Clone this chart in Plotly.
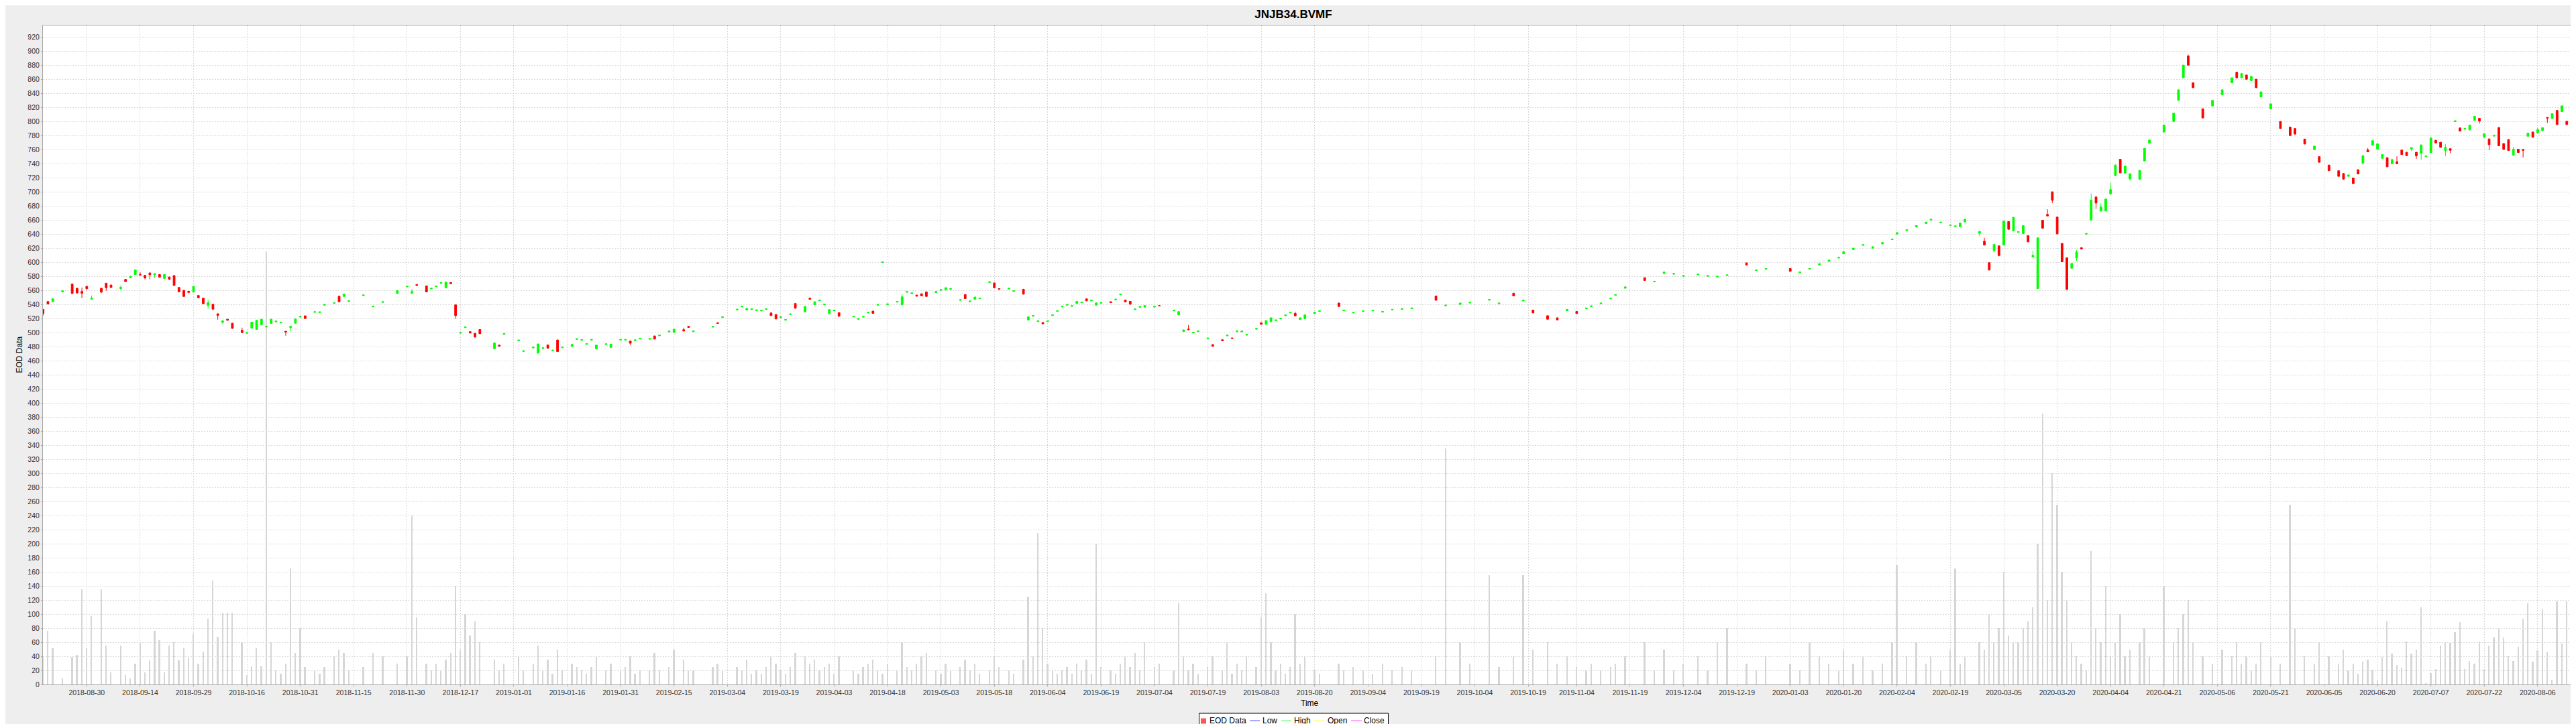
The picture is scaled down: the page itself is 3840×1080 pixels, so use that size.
import numpy as np
import plotly.graph_objects as go

START = "2018-08-17"          # session 0 (weekday count origin)
TITLE = "JNJB34.BVMF"

# trading session number (weekdays since START)
session = [
    0, 1, 2, 4, 6, 7, 8, 9, 10, 12,
    13, 14, 16, 17, 18, 19, 20, 21, 22, 23,
    24, 25, 26, 27, 28, 29, 30, 31, 32, 33,
    34, 35, 36, 37, 38, 39, 41, 42, 43, 44,
    45, 46, 47, 48, 49, 50, 51, 52, 53, 54,
    56, 57, 58, 60, 61, 62, 63, 66, 68, 70,
    73, 75, 76, 77, 79, 80, 81, 82, 83, 84,
    85, 86, 87, 88, 89, 90, 93, 94, 95, 98,
    99, 101, 102, 103, 104, 105, 106, 107, 109, 110,
    111, 112, 113, 114, 116, 117, 119, 120, 121, 122,
    123, 125, 126, 127, 129, 130, 132, 133, 134, 138,
    139, 140, 143, 144, 145, 146, 147, 148, 149, 150,
    151, 152, 153, 154, 155, 157, 158, 159, 160, 161,
    162, 163, 164, 167, 168, 169, 170, 171, 172, 173,
    174, 176, 177, 178, 179, 180, 181, 182, 184, 185,
    186, 187, 189, 190, 191, 192, 193, 195, 196, 197,
    199, 200, 202, 203, 204, 205, 206, 207, 208, 209,
    210, 211, 212, 213, 214, 215, 216, 217, 218, 220,
    221, 222, 223, 224, 225, 226, 227, 229, 230, 233,
    234, 235, 236, 237, 238, 240, 241, 243, 244, 245,
    246, 247, 248, 250, 251, 252, 253, 254, 255, 256,
    257, 258, 259, 260, 262, 263, 267, 268, 270, 272,
    274, 276, 278, 280, 282, 287, 289, 292, 294, 298,
    300, 303, 305, 307, 310, 312, 314, 316, 318, 319,
    321, 323, 324, 326, 330, 332, 334, 336, 338, 341,
    343, 345, 347, 351, 353, 355, 360, 362, 364, 366,
    368, 370, 371, 373, 375, 377, 379, 381, 382, 384,
    386, 388, 389, 391, 393, 394, 395, 396, 399, 400,
    401, 402, 403, 404, 405, 406, 407, 408, 409, 410,
    411, 412, 413, 414, 415, 416, 417, 418, 419, 420,
    421, 422, 423, 424, 425, 426, 427, 428, 429, 430,
    432, 433, 434, 437, 439, 440, 441, 442, 443, 445,
    447, 449, 451, 452, 453, 454, 455, 456, 457, 459,
    461, 463, 464, 466, 468, 469, 471, 473, 474, 475,
    476, 477, 478, 479, 480, 481, 482, 483, 484, 485,
    486, 487, 488, 489, 490, 491, 492, 493, 494, 495,
    496, 497, 498, 499, 500, 501, 502, 503, 504, 505,
    506, 507, 508, 509, 510, 511, 512, 513, 514, 515,
    516, 517, 518, 519, 520,
]

open_ = [
    533, 544.1, 544.1, 558, 568.9, 562.9, 558.4, 565.7, 547.3, 562.9,
    570.2, 567.6, 562.5, 575.6, 577.8, 582.5, 582.5, 581.3, 584.8, 582.2,
    582.5, 577.1, 579, 581, 564.1, 560, 558.7, 557.5, 552.7, 548.9,
    538.7, 540.3, 526.7, 514.6, 519, 513.3, 503.2, 499, 506.3, 504.4,
    511.1, 508, 513, 515.3, 513.8, 501.9, 507, 513.3, 522, 523.8,
    528.7, 528.4, 538.9, 541.4, 551.7, 551.4, 544.3, 552.5, 536.6, 543,
    555.6, 564.9, 555.9, 568.3, 566.3, 562, 565.2, 570, 563.8, 571.1,
    539.4, 499.2, 507.1, 501.3, 499, 504.4, 477.1, 482.2, 497.6, 488.4,
    473.2, 478.2, 470.8, 477.3, 482.5, 474.1, 489.5, 478.5, 480.3, 490.3,
    489, 483.3, 489.3, 476.8, 483, 479, 489.3, 489.3, 488, 488.7,
    490.9, 490.6, 495.2, 495.4, 501.1, 500.3, 504.1, 508.9, 501.4, 507.8,
    514, 521.4, 532.2, 536.6, 532.1, 532.8, 531.2, 530.9, 532.8, 527.9,
    525.7, 521.4, 517.6, 525.5, 541.3, 529.2, 548.9, 539.7, 545.2, 539.5,
    526.7, 530.9, 528.3, 522.4, 518.9, 522, 527.8, 530.5, 538.9, 599.5,
    539.8, 543.3, 539.4, 557.3, 555.4, 553.3, 555.2, 557.8, 556.8, 560.1,
    560.6, 561.4, 545.8, 554, 543.9, 547.3, 548.1, 571.2, 570.5, 562.5,
    562, 558.5, 561.6, 517.8, 523.3, 515.7, 514.3, 515.7, 524.3, 530,
    536.6, 538.9, 537.3, 541.3, 542.4, 547.9, 545.2, 539, 541.7, 543.8,
    546.5, 553.8, 546.3, 544.4, 532.5, 536, 536.2, 536.3, 538.4, 530.9,
    525.1, 501.6, 505.1, 499.5, 501.4, 491.2, 482.9, 489.8, 495.4, 492.4,
    501.4, 501.1, 496.3, 504.9, 514, 511.7, 515.6, 517, 519.5, 523.9,
    528.1, 527.3, 518.7, 519.7, 527, 530, 542, 531, 528, 530,
    531, 529, 532, 533, 534, 552, 538, 540, 542, 546,
    541, 556, 545, 532, 524, 521, 531, 530, 534, 537,
    541, 548, 553, 563, 578, 572, 584, 583, 580, 582,
    580, 579, 581, 599, 588, 590, 591, 585, 590, 596,
    601, 606, 612, 618, 624, 620, 626, 632, 640, 645,
    650, 655, 660, 656, 652, 650.6, 650.5, 657.5, 641, 629.8,
    599.4, 616.5, 623.2, 624.4, 657.8, 644.4, 642.4, 640.6, 637.8, 607.3,
    562.5, 659.7, 668, 700, 664.1, 626.7, 606.3, 591.4, 606, 620.6,
    639.8, 659.7, 692.7, 672.7, 672.7, 697.1, 722.9, 746.3, 726.7, 718.4,
    717.8, 743.8, 769.2, 785, 800, 830, 862, 893, 855, 818,
    822, 838, 855, 870, 862, 866, 858, 860, 835, 818,
    800, 792, 790, 775, 760, 750, 738, 730, 726, 722,
    719.7, 731.4, 740.6, 759.4, 766.3, 760.6, 747.6, 748.6, 740, 742.9,
    759.4, 756.2, 761, 756.2, 755, 750, 755.9, 773.3, 770.5, 758.7,
    761.3, 799.7, 790.8, 789, 787.9, 801.6, 804.4, 777.5, 775.2, 779.2,
    791.4, 768.6, 774.3, 752, 760.6, 760.3, 779, 785, 783.8, 787,
    805.7, 804.4, 815.6, 814, 800.3,
]

high = [
    533.5, 544.6, 548.5, 560, 569.4, 563.4, 564, 566.2, 552.7, 563.4,
    570.7, 568.1, 567, 576.1, 580.5, 589.4, 585.7, 581.8, 585.3, 584.3,
    583, 583, 579.5, 581.5, 564.6, 560.5, 559.2, 566.2, 553.2, 549.4,
    546.3, 540.8, 527.2, 517.3, 519.5, 513.8, 507, 500.5, 515.4, 518,
    519.5, 509.5, 519.5, 516.8, 515.3, 502.4, 509.4, 519.9, 523.5, 524.3,
    530.2, 529.9, 540.4, 542.9, 552.2, 555.1, 545.8, 554, 538.1, 544.5,
    560.2, 566.4, 562, 568.8, 566.8, 563.5, 566.7, 571.5, 572.2, 571.6,
    539.9, 500.7, 508.6, 501.8, 499.5, 504.9, 486.3, 482.7, 499.1, 489.9,
    474.7, 479.7, 484.3, 478.8, 483, 475.6, 490, 480, 483.7, 491.8,
    490.5, 484.8, 490.8, 482.7, 484.5, 484, 490.8, 490.8, 488.5, 490.2,
    492.4, 492.1, 495.7, 496.9, 502.6, 505.3, 507, 509.4, 502.9, 509.3,
    514.5, 522.9, 533.7, 538.1, 534.8, 534.3, 532.7, 532.4, 534.3, 528.4,
    526.2, 522.9, 519.1, 527, 541.8, 537.6, 549.4, 544.3, 546.7, 541,
    533.2, 532.4, 528.8, 523.9, 520.4, 523.5, 529.3, 531, 540.4, 601,
    541.3, 544.8, 554.6, 558.8, 556.9, 553.8, 555.7, 558.3, 558.9, 561.6,
    564.3, 562.9, 547.3, 554.5, 545.4, 551, 549.6, 572.7, 571, 563,
    563.5, 560, 562.1, 522.7, 524.8, 517.2, 514.8, 517.2, 525.8, 531.5,
    538.1, 540.4, 538.8, 544.9, 543.9, 548.4, 546.7, 542.7, 543.2, 544.3,
    548, 555.3, 546.8, 544.9, 534, 537.5, 538.9, 537.8, 538.9, 532.4,
    530.3, 504.3, 510.8, 501, 502.9, 492.7, 483.4, 490.3, 496.9, 492.9,
    502.9, 502.6, 497.8, 506.4, 514.5, 517.6, 521.5, 518.5, 521, 525.4,
    529.6, 529.5, 521.5, 525.6, 529.5, 531.5, 542.5, 532.5, 529.5, 531.5,
    532.5, 530.5, 533.5, 534.5, 535.5, 552.5, 539.5, 542.5, 543.5, 547.5,
    542.5, 556.5, 546.5, 532.5, 524.5, 521.5, 533.5, 530.5, 535.5, 538.5,
    542.5, 549.5, 554.5, 565.5, 578.5, 573.5, 586.5, 584.5, 581.5, 583.5,
    581.5, 580.5, 582.5, 599.5, 589.5, 591.5, 591.5, 586.5, 591.5, 598.5,
    603.5, 607.5, 615.5, 620.5, 625.5, 622.5, 628.5, 633.5, 642.5, 646.5,
    652.5, 657.5, 661.5, 657.5, 653.5, 652.1, 656.1, 661.5, 644.3, 634.6,
    599.9, 625.6, 623.7, 658.9, 658.3, 664.3, 643.9, 652.5, 638.3, 616.2,
    635.1, 660.2, 675.2, 700.5, 664.6, 627.2, 606.8, 598.6, 617.5, 621.1,
    641.3, 697.5, 693.2, 683.5, 690.3, 712.7, 738.6, 746.8, 737, 726.2,
    731, 762.1, 774.1, 795.5, 812.5, 845.5, 880.5, 895, 855.5, 818.5,
    830.5, 845.5, 862.5, 870.5, 868.5, 866.5, 864.5, 860.5, 842.5, 825.5,
    800.5, 792.5, 790.5, 775.5, 765.5, 750.5, 738.5, 730.5, 726.5, 724.5,
    720.2, 731.9, 751.9, 762.2, 773.2, 768.8, 753.5, 749.1, 746.5, 750.5,
    759.9, 756.7, 763.4, 756.7, 767.2, 751.5, 777, 773.8, 771, 767.6,
    761.8, 801.5, 791.3, 790.5, 795.4, 807.8, 804.9, 783, 775.7, 780.7,
    791.9, 769.1, 774.8, 764.1, 761.1, 760.8, 784, 785.5, 791, 791.6,
    806.2, 811.6, 816.1, 822.7, 800.8,
]

low = [
    524, 540.1, 543, 557.5, 555.1, 555.7, 549, 560, 546.8, 556,
    559.4, 563.6, 560, 571.9, 577.3, 582, 581.1, 575.6, 575.6, 578,
    578.2, 575.9, 574.6, 566.5, 557.3, 550.9, 556, 557, 549, 540.5,
    534, 532.8, 518.4, 512.4, 517, 505.5, 499.5, 498.5, 505.8, 503.9,
    510.6, 507.5, 512.5, 514.8, 513.3, 495.6, 502, 512.8, 521.5, 519.5,
    528.2, 527.9, 538.4, 540.9, 543.3, 550.9, 543.8, 552, 536.1, 542.5,
    555.1, 564.4, 555.4, 566.5, 557.3, 561.5, 564.7, 569.5, 563.3, 569,
    519.7, 498.7, 506.6, 498.9, 492.7, 497.9, 476.6, 480.1, 497.1, 487.9,
    472.7, 477.7, 470.3, 476.8, 477.3, 473.6, 472.5, 478, 479.8, 489.8,
    488.5, 482.8, 488.8, 476.3, 482.5, 478.5, 488.8, 488.8, 482.2, 488.2,
    490.4, 490.1, 490.3, 494.9, 500.6, 499.8, 501.7, 506.8, 500.9, 507.3,
    512.5, 520.9, 531.7, 536.1, 531.6, 532.3, 530.7, 530.4, 532.3, 523.6,
    518.9, 520.9, 517.1, 525, 534.1, 528.7, 546.8, 539.2, 544.7, 539,
    526.2, 530.4, 522, 521.9, 518.4, 521.5, 527.3, 526.8, 538.4, 599,
    539.3, 542.8, 538.9, 556.8, 554.9, 551.2, 551.6, 550.9, 556.3, 559.6,
    560.1, 560.9, 545.3, 547.8, 543.4, 546.8, 547.6, 570.7, 563.3, 561.1,
    561.5, 558, 554.1, 517.3, 522.8, 515.2, 511.9, 515.2, 523.8, 529.5,
    536.1, 538.4, 536.8, 540.8, 541.9, 544.6, 544.7, 538.5, 541.2, 542,
    546, 553.3, 543, 539.8, 532, 535.5, 535.7, 535.8, 537.3, 530.4,
    524.6, 501.1, 503.6, 499, 500.9, 490.7, 480.1, 487.8, 494.9, 491.2,
    500.9, 500.6, 495.8, 504.4, 511.2, 511.2, 515.1, 516.5, 519, 523.4,
    527.6, 523.3, 518.2, 519.2, 526.5, 529.5, 536.5, 530.5, 527.5, 529.5,
    530.5, 528.5, 531.5, 532.5, 533.5, 545.5, 537.5, 539.5, 541.5, 545.5,
    540.5, 551.5, 544.5, 527.5, 518.5, 517.5, 530.5, 526.5, 533.5, 536.5,
    540.5, 547.5, 552.5, 562.5, 573.5, 571.5, 583.5, 582.5, 579.5, 581.5,
    579.5, 578.5, 580.5, 595.5, 587.5, 589.5, 586.5, 584.5, 589.5, 595.5,
    600.5, 605.5, 611.5, 617.5, 623.5, 619.5, 625.5, 631.5, 639.5, 644.5,
    649.5, 654.5, 659.5, 655.5, 651.5, 650.1, 650, 656, 636.8, 623.9,
    588.4, 614, 608.3, 623.9, 646.2, 643.9, 641.9, 640.1, 628.4, 606.8,
    562, 647.8, 665.2, 684.1, 639.8, 600.1, 560.8, 590.9, 601.6, 618.2,
    639.3, 659.2, 675.6, 672.2, 672.2, 696.6, 722.4, 726.5, 726.2, 716,
    717.3, 743.3, 768.7, 784.5, 799.5, 829.5, 861.5, 879.5, 847.5, 804.5,
    821.5, 837.5, 854.5, 861.5, 861.5, 859.5, 857.5, 847.5, 834.5, 817.5,
    789.5, 779.5, 781.5, 767.5, 759.5, 741.5, 729.5, 721.5, 717.5, 721.5,
    711.2, 724.9, 740.1, 756.3, 765.8, 760.1, 747.1, 735.1, 739.5, 739.5,
    752.5, 750.9, 757.8, 746.7, 745.7, 749.5, 755.4, 769, 762.7, 750.8,
    754.9, 799.2, 785.8, 788.5, 787.4, 801.1, 797, 777, 759.4, 778.7,
    764.9, 759.8, 758.2, 751.5, 755.4, 748.9, 778.5, 777, 783.3, 786.5,
    798, 803.9, 795.1, 813.5, 795.1,
]

close = [
    527.3, 540.6, 548, 559.5, 555.6, 556.2, 555.9, 562.5, 548.9, 557.5,
    563.8, 564.1, 564.4, 572.4, 580, 588.9, 581.6, 577.5, 582.2, 583.8,
    578.7, 582.5, 575.9, 567, 557.8, 551.4, 557.1, 565.7, 549.5, 541,
    542.5, 533.3, 524.4, 516.8, 517.5, 506, 500, 500, 514.9, 517.5,
    519, 509, 519, 516.3, 514.8, 501, 508.9, 519.4, 523, 520,
    529.7, 529.4, 539.9, 542.4, 543.8, 554.6, 545.3, 553.5, 537.6, 544,
    559.7, 565.9, 558.4, 567, 557.8, 563, 566.2, 571, 571.7, 569.5,
    524.1, 500.2, 508.1, 499.4, 493.7, 498.4, 485.1, 480.6, 498.6, 489.4,
    474.2, 479.2, 483.8, 478.3, 477.8, 475.1, 473, 479.5, 483.2, 491.3,
    490, 484.3, 490.3, 482.2, 484, 483.5, 490.3, 490.3, 484.8, 489.7,
    491.9, 491.6, 490.8, 496.4, 502.1, 504.8, 502.2, 507.3, 502.4, 508.8,
    513, 522.4, 533.2, 537.6, 534.3, 533.8, 532.2, 531.9, 533.8, 524.1,
    519.4, 522.4, 518.6, 526.5, 534.6, 537.1, 547.3, 543.8, 546.2, 540.5,
    532.7, 531.9, 523.5, 523.4, 519.9, 523, 528.8, 527.3, 539.9, 600.5,
    540.8, 544.3, 550.8, 558.3, 556.4, 551.7, 552.1, 551.4, 558.4, 561.1,
    563.8, 562.4, 546.8, 548.3, 544.9, 550.5, 549.1, 572.2, 563.8, 561.6,
    563, 559.5, 554.6, 522.2, 524.3, 516.7, 512.4, 516.7, 525.3, 531,
    537.6, 539.9, 538.3, 544.4, 543.4, 545.1, 546.2, 542.2, 542.7, 542.5,
    547.5, 554.8, 543.5, 540.3, 533.5, 537, 538.4, 537.3, 537.8, 531.9,
    529.8, 503.8, 504.1, 500.5, 502.4, 492.2, 480.6, 488.3, 496.4, 491.7,
    502.4, 502.1, 497.3, 505.9, 511.7, 517.1, 521, 518, 520.5, 524.9,
    529.1, 523.8, 521, 525.1, 529, 531, 537, 532, 529, 531,
    532, 530, 533, 534, 535, 546, 539, 542, 543, 547,
    542, 552, 546, 528, 519, 518, 533, 527, 535, 538,
    542, 549, 554, 565, 574, 573, 586, 584, 581, 583,
    581, 580, 582, 596, 589, 591, 587, 586, 591, 598,
    603, 607, 615, 620, 625, 622, 628, 633, 642, 646,
    652, 657, 661, 657, 653, 651.6, 655.6, 661, 643.8, 624.4,
    588.9, 625.1, 609.5, 658.4, 646.7, 663.8, 643.4, 652, 628.9, 609.8,
    634.6, 648.3, 665.7, 688, 640.3, 600.6, 561.3, 598.1, 614.6, 618.7,
    640.8, 688.3, 684.1, 678.4, 689.8, 703.2, 738.1, 727, 736.5, 725.7,
    730.5, 761.6, 773.6, 795, 812, 845, 880, 880, 848, 805,
    830, 845, 862, 862, 868, 860, 864, 848, 842, 825,
    790, 780, 782, 768, 765, 742, 730, 722, 718, 724,
    711.7, 725.4, 751.4, 756.8, 772.7, 768.3, 753, 735.6, 746, 740,
    753, 751.4, 762.9, 751.1, 766.7, 751, 776.5, 769.5, 763.2, 763.2,
    759, 801, 786.3, 790, 794.9, 807.3, 800.6, 782.5, 767, 780.2,
    765.4, 760.3, 758.7, 760.6, 755.9, 759, 783.5, 777.5, 788.6, 791.1,
    804.8, 811.1, 795.6, 822.2, 795.6,
]

volume = [
    40, 76, 51, 9, 39, 42, 135, 51, 97, 135,
    55, 17, 55, 13, 9, 30, 60, 17, 34, 76,
    63, 17, 55, 60, 34, 51, 38, 72, 30, 47,
    93, 148, 68, 102, 102, 102, 60, 13, 26, 51,
    26, 615, 60, 20, 15, 30, 165, 45, 80, 25,
    20, 15, 25, 40, 50, 45, 20, 25, 45, 40,
    30, 40, 240, 95, 30, 20, 30, 20, 35, 45,
    140, 50, 100, 70, 90, 60, 35, 20, 30, 40,
    20, 30, 55, 20, 35, 15, 50, 20, 30, 25,
    20, 15, 25, 40, 20, 30, 20, 25, 40, 15,
    20, 20, 45, 20, 25, 50, 35, 20, 20, 25,
    30, 20, 25, 20, 35, 15, 20, 15, 25, 40,
    30, 20, 15, 25, 45, 40, 30, 35, 20, 25,
    30, 15, 40, 20, 15, 25, 30, 35, 20, 15,
    30, 20, 60, 25, 20, 30, 40, 45, 20, 15,
    30, 20, 25, 35, 20, 30, 15, 20, 40, 25,
    20, 15, 35, 125, 40, 215, 80, 30, 20, 15,
    20, 25, 15, 30, 20, 35, 15, 200, 25, 20,
    15, 30, 40, 25, 45, 20, 60, 25, 30, 20,
    115, 40, 20, 30, 15, 25, 40, 20, 60, 15,
    30, 20, 40, 25, 95, 130, 60, 20, 30, 15,
    25, 100, 30, 40, 20, 15, 30, 20, 25, 20,
    15, 30, 20, 25, 20, 40, 335, 60, 30, 155,
    25, 40, 155, 50, 60, 30, 40, 25, 20, 30,
    20, 25, 30, 40, 60, 20, 50, 20, 30, 40,
    20, 60, 80, 30, 20, 40, 30, 20, 60, 40,
    30, 20, 50, 30, 40, 20, 30, 60, 170, 40,
    60, 30, 40, 20, 50, 165, 30, 40, 60, 50,
    100, 60, 80, 160, 70, 60, 60, 80, 90, 110,
    200, 385, 120, 300, 255, 160, 120, 60, 40, 30,
    20, 190, 80, 60, 140, 40, 60, 100, 40, 50,
    60, 80, 40, 140, 60, 80, 100, 120, 60, 40,
    30, 50, 40, 60, 30, 40, 20, 30, 60, 40,
    30, 255, 80, 40, 30, 60, 40, 30, 50, 20,
    30, 15, 32, 35, 21, 5, 39, 90, 44, 28,
    24, 61, 44, 50, 110, 1, 16, 22, 55, 60,
    59, 74, 89, 22, 33, 30, 61, 22, 55, 67,
    80, 67, 40, 33, 53, 93, 115, 32, 49, 107,
    46, 7, 118, 58, 118,
]

tick_dates = [
    "2018-08-30", "2018-09-14", "2018-09-29", "2018-10-16", "2018-10-31",
    "2018-11-15", "2018-11-30", "2018-12-17", "2019-01-01", "2019-01-16",
    "2019-01-31", "2019-02-15", "2019-03-04", "2019-03-19", "2019-04-03",
    "2019-04-18", "2019-05-03", "2019-05-18", "2019-06-04", "2019-06-19",
    "2019-07-04", "2019-07-19", "2019-08-03", "2019-08-20", "2019-09-04",
    "2019-09-19", "2019-10-04", "2019-10-19", "2019-11-04", "2019-11-19",
    "2019-12-04", "2019-12-19", "2020-01-03", "2020-01-20", "2020-02-04",
    "2020-02-19", "2020-03-05", "2020-03-20", "2020-04-04", "2020-04-21",
    "2020-05-06", "2020-05-21", "2020-06-05", "2020-06-20", "2020-07-07",
    "2020-07-22", "2020-08-06",
]

legend_names = ["EOD Data", "Low", "High", "Open", "Close"]
legend_colors = ["#ff5555", "#5555ff", "#55ff55", "#ffff55", "#ff55ff"]

# tick positions on the weekday (session) scale
tick_pos = np.busday_count(np.datetime64(START),
                           np.array(tick_dates, dtype="datetime64[D]")).tolist()

FONT = "Liberation Sans, Arial, sans-serif"
GRID = "#d9d9d9"
AXLINE = "#a8a8a8"

W, H = 3840, 1080
ML, MR, MT, MB = 56, 8, 30, 67
PW, PH = W - ML - MR, H - MT - MB


def px2x(px):
    return (px - ML) / PW


def py2y(py):
    return (H - MB - py) / PH


fig = go.Figure()

fig.add_trace(go.Bar(
    x=session, y=volume, width=0.25,
    marker=dict(color="#d6d6d6", line=dict(width=0)),
    showlegend=False, hoverinfo="skip",
))

fig.add_trace(go.Candlestick(
    x=session, open=open_, high=high, low=low, close=close,
    increasing=dict(line=dict(color="#00ff00", width=1), fillcolor="#00ff00"),
    decreasing=dict(line=dict(color="#ff0000", width=1), fillcolor="#ff0000"),
    whiskerwidth=0, showlegend=False, name="EOD Data",
))

# ---- legend box drawn at the bottom centre (JFreeChart style) ----
LEG_Y = 1067
shapes = [
    dict(type="rect", xref="paper", yref="paper",
         x0=px2x(1779.5), x1=px2x(2061.5), y0=py2y(1078), y1=py2y(1056),
         line=dict(color="#000000", width=1), fillcolor="white",
         layer="above"),
    dict(type="rect", xref="paper", yref="paper",
         x0=px2x(1782), x1=px2x(1790), y0=py2y(1071.5), y1=py2y(1063.5),
         line=dict(width=0), fillcolor=legend_colors[0], layer="above"),
]
line_spans = [(1855, 1870), (1902, 1917), (1950, 1966), (2006, 2022)]
for (x0, x1), col in zip(line_spans, legend_colors[1:]):
    shapes.append(dict(type="line", xref="paper", yref="paper",
                       x0=px2x(x0), x1=px2x(x1), y0=py2y(LEG_Y),
                       y1=py2y(LEG_Y), line=dict(color=col, width=1),
                       layer="above"))
text_x = [1794, 1873, 1920, 1970, 2024]
annotations = [
    dict(text=nm, x=px2x(tx), xref="paper", y=py2y(LEG_Y), yref="paper",
         showarrow=False, xanchor="left", yanchor="middle",
         borderpad=0, font=dict(size=12, color="#000000"))
    for nm, tx in zip(legend_names, text_x)
]
annotations += [
    dict(text="Time", x=0.5, xref="paper", y=py2y(1041), yref="paper",
         showarrow=False, xanchor="center", yanchor="middle",
         font=dict(size=12, color="#000000")),
    dict(text="EOD Data", x=px2x(20), xref="paper", y=0.5, yref="paper",
         showarrow=False, textangle=-90, xanchor="center",
         yanchor="middle", font=dict(size=12, color="#000000")),
]

fig.update_layout(
    width=W, height=H,
    paper_bgcolor="#eeeeee", plot_bgcolor="white",
    margin=dict(l=ML, r=MR, t=MT, b=MB, pad=0),
    font=dict(family=FONT, size=10.5, color="#333333"),
    boxgap=0.45,
    showlegend=False,
    title=dict(text="<b>" + TITLE + "</b>", x=0.5, xanchor="center",
               y=1 - 13 / H, yref="container", yanchor="middle",
               font=dict(family=FONT, size=17, color="#000000")),
    xaxis=dict(
        range=[-0.03, 521.9], tickmode="array", tickvals=tick_pos,
        ticktext=tick_dates, showgrid=True, gridcolor=GRID, gridwidth=1,
        griddash="2px,2px", showline=True, linecolor=AXLINE, linewidth=1,
        mirror=True, ticks="outside", ticklen=2, tickcolor=AXLINE,
        zeroline=False, rangeslider=dict(visible=False),
        tickfont=dict(size=10.5, color="#333333"),
    ),
    yaxis=dict(
        range=[0, 936.4], tick0=0, dtick=20, showgrid=True, gridcolor=GRID,
        gridwidth=1, griddash="2px,2px", showline=True, linecolor=AXLINE,
        linewidth=1, mirror=True, ticks="outside", ticklen=2,
        tickcolor=AXLINE, zeroline=False,
        tickfont=dict(size=10.5, color="#333333"),
    ),
    shapes=shapes,
    annotations=annotations,
    bargap=0,
)

fig.write_html("out.html")
